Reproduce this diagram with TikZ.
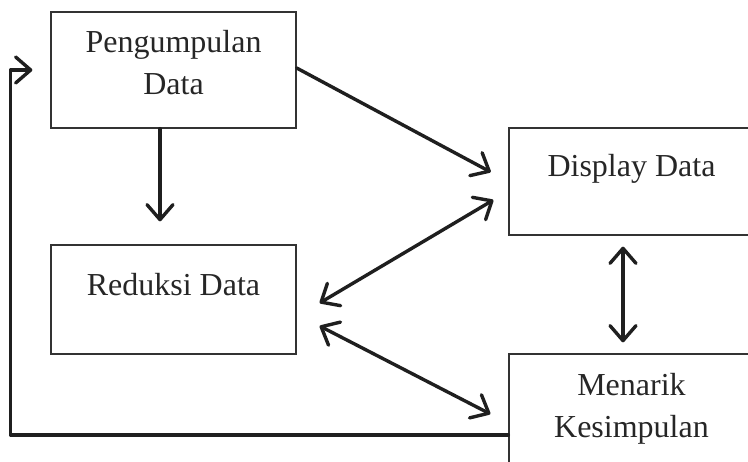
\documentclass[tikz,border=0pt]{standalone}
\usepackage{fontspec}
\setmainfont{Liberation Serif}
\usetikzlibrary{positioning, arrows.meta}
\tikzset{stage/.style={draw=black!80,line width=1.3pt,minimum width=245pt,inner sep=0pt},
         caption/.style={font=\fontsize{32}{42}\selectfont,text=black!85,align=center,inner sep=0pt},
         flow/.style={draw=black!88,line width=3.4pt,line cap=round,line join=round,
                      >={Straight Barb[length=15pt,width=26pt,line cap=round,line join=round]}},
        }

\begin{document}
\begin{tikzpicture}[x=1pt,y={(0pt,-1pt)}]
        \useasboundingbox (0,0) rectangle (748,462);
        \clip (0,0) rectangle (748,462);

        \node[stage,minimum height=116pt](pd)at(173.5,70){};
        \node[stage,minimum height=109pt](rd)at(173.5,299.5){};
        \node[stage,minimum height=107pt](dd)at(631.5,181.5){};
        \node[stage,minimum height=116pt](mk)at(631.5,412){};

        \node[caption](pdt)at(173.5,62.5){Pengumpulan\\Data};
        \node[caption,anchor=base](rdt)at(173.5,296){Reduksi Data};
        \node[caption,anchor=base](ddt)at(631.5,177){Display Data};
        \node[caption](mkt)at(631.5,409){Menarik\\Kesimpulan};

        \draw[flow,->,shorten >=23pt]([xshift=-13.5pt]pd.south)--([xshift=-13.5pt]rd.north);
        \draw[flow,->,shorten >=20pt]([yshift=2pt]pd.east)--(dd.west);
        \draw[flow,<->]([shift={(-15,18.5)}]dd.west)--([shift={(23,3.5)}]rd.east);
        \draw[flow,<->]([shift={(23,26.5)}]rd.east)--([shift={(-18,2)}]mk.west);
        \draw[flow,<->]([shift={(-8.5,11)}]dd.south)--([shift={(-8.5,-11)}]mk.north);
        \draw[flow,->,shorten >=18pt]([yshift=-23pt]mk.west)-|([xshift=-40pt]pd.west)--(pd.west);
    \end{tikzpicture}
\end{document}
